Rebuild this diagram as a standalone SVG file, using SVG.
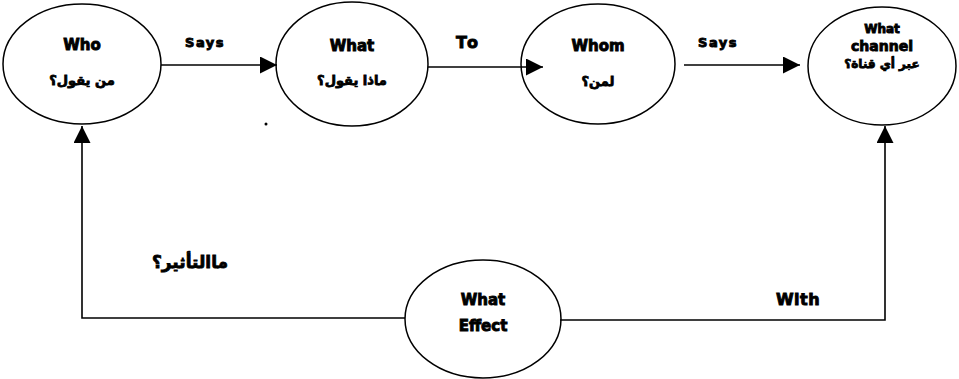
<svg xmlns="http://www.w3.org/2000/svg" width="959" height="379" viewBox="0 0 959 379">
<style>
.n{fill:#fff;stroke:#000;stroke-width:1.5}
.c{fill:none;stroke:#000;stroke-width:1.6}
.t{font-family:"DejaVu Sans","Liberation Sans",sans-serif;font-weight:bold;font-size:15px;fill:#000;stroke:#000;stroke-width:0.9;text-anchor:middle}
.a{font-family:"DejaVu Sans","Noto Sans",sans-serif;font-weight:bold;font-size:13px;fill:#000;stroke:#000;stroke-width:0.8;text-anchor:middle}
</style>
<defs>
<marker id="ah" viewBox="0 0 10 10" refX="10" refY="5" markerWidth="17" markerHeight="17" markerUnits="userSpaceOnUse" orient="auto">
<path d="M0,0 L10,5 L0,10 z" fill="#000"/>
</marker>
</defs>
<rect width="959" height="379" fill="#fff"/>
<g id="who">
<ellipse class="n" cx="82" cy="64" rx="79" ry="60"/>
<text class="t" x="82" y="50">Who</text>
<text class="a" x="82" y="85">من يقول؟</text>
</g>
<g id="what">
<ellipse class="n" cx="352" cy="64" rx="76" ry="62"/>
<text class="t" x="352" y="51">What</text>
<text class="a" x="352" y="85">ماذا يقول؟</text>
</g>
<g id="whom">
<ellipse class="n" cx="598" cy="64" rx="77" ry="60"/>
<text class="t" x="598" y="51">Whom</text>
<text class="a" x="598" y="86">لمن؟</text>
</g>
<g id="channel">
<ellipse class="n" cx="882" cy="66" rx="74" ry="59"/>
<text class="t" x="882" y="33" style="font-size:12px">What</text>
<text class="t" x="882" y="51" style="font-size:14px">channel</text>
<text class="a" x="882" y="68" style="font-size:12px">عبر أي قناة؟</text>
</g>
<g id="effect">
<ellipse class="n" cx="483" cy="319" rx="78" ry="59"/>
<text class="t" x="483" y="305">What</text>
<text class="t" x="483" y="331">Effect</text>
</g>
<g id="connectors">
<line class="c" x1="161" y1="65" x2="277" y2="65" marker-end="url(#ah)"/>
<line class="c" x1="428" y1="67" x2="543" y2="67" marker-end="url(#ah)"/>
<line class="c" x1="684" y1="65" x2="800" y2="65" marker-end="url(#ah)"/>
<polyline class="c" points="405,318 82,318 82,126" marker-end="url(#ah)"/>
<polyline class="c" points="560,320 885,320 885,126" marker-end="url(#ah)"/>
<circle cx="266" cy="124" r="1.5" fill="#000"/>
</g>
<g id="labels">
<text class="t" x="205" y="47" style="font-size:13px;letter-spacing:1.5px">Says</text>
<text class="t" x="468" y="48" style="font-size:16px;letter-spacing:2px">To</text>
<text class="t" x="718" y="47" style="font-size:13px;letter-spacing:1.5px">Says</text>
<text class="t" x="798" y="305" style="font-size:16px;letter-spacing:0.5px">With</text>
<text class="a" x="190" y="268" style="font-size:17px">ماالتأثير؟</text>
</g>
</svg>
